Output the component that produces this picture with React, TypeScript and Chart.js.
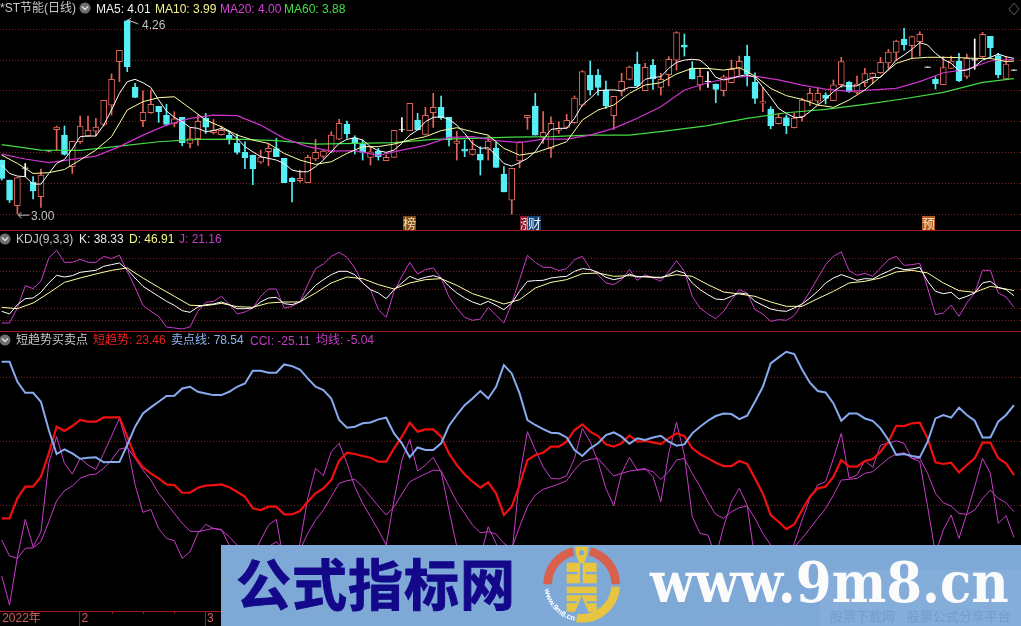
import React, { useEffect, useRef } from "react";
import { Chart, registerables } from "chart.js";

Chart.register(...registerables);

const OPEN = [3.351,3.221,3.055,3.297,3.206,3.113,3.409,3.548,3.513,3.308,3.47,3.507,3.539,3.583,3.708,3.99,4.254,3.823,3.606,3.658,3.7,3.641,3.585,3.628,3.459,3.49,3.622,3.529,3.516,3.511,3.461,3.401,3.383,3.338,3.405,3.425,3.362,3.234,3.217,3.204,3.358,3.375,3.403,3.487,3.585,3.496,3.455,3.368,3.407,3.347,3.368,3.546,3.542,3.611,3.518,3.658,3.693,3.628,3.459,3.422,3.388,3.388,3.42,3.429,3.26,3.091,3.345,3.626,3.702,3.5,3.427,3.544,3.563,3.593,3.708,3.903,3.903,3.806,3.639,3.797,3.875,3.974,3.801,3.968,3.823,3.905,4.0,4.098,3.946,3.838,3.86,3.845,3.801,3.853,3.946,4.024,3.858,3.721,3.682,3.587,3.626,3.561,3.632,3.734,3.734,3.773,3.736,3.84,3.855,3.79,3.853,3.888,3.918,3.981,4.05,4.137,4.093,4.119,3.953,3.875,3.84,3.946,3.994,3.894,4.0,4.022,4.154,4.029,3.877,3.933];
const CLOSE = [3.232,3.091,3.238,3.3,3.15,3.254,3.412,3.565,3.388,3.472,3.572,3.544,3.565,3.738,3.875,4.063,3.957,3.758,3.661,3.713,3.665,3.583,3.619,3.464,3.49,3.602,3.565,3.544,3.544,3.483,3.401,3.366,3.293,3.371,3.427,3.373,3.204,3.21,3.232,3.368,3.401,3.409,3.513,3.589,3.52,3.459,3.401,3.405,3.373,3.368,3.544,3.549,3.719,3.546,3.641,3.693,3.626,3.481,3.474,3.409,3.42,3.351,3.474,3.303,3.145,3.297,3.47,3.641,3.513,3.531,3.589,3.554,3.609,3.754,3.925,3.806,3.823,3.702,3.764,3.862,3.955,3.832,3.953,3.877,3.875,4.005,4.178,4.083,3.877,3.894,3.863,3.81,3.892,3.94,3.992,3.91,3.751,3.73,3.572,3.628,3.574,3.624,3.741,3.784,3.784,3.751,3.84,3.99,3.795,3.845,3.912,3.914,3.985,4.052,4.124,4.098,4.152,4.167,3.956,3.845,3.951,3.994,3.866,4.011,4.003,4.167,4.08,3.903,3.974,3.936];
const HIGH = [3.351,3.221,3.238,3.329,3.243,3.293,3.412,3.572,3.572,3.472,3.637,3.637,3.622,3.738,3.91,4.063,4.26,3.849,3.801,3.806,3.7,3.713,3.665,3.628,3.557,3.643,3.654,3.615,3.572,3.537,3.52,3.47,3.383,3.416,3.459,3.492,3.362,3.238,3.286,3.383,3.485,3.416,3.535,3.615,3.604,3.509,3.481,3.438,3.427,3.383,3.544,3.626,3.719,3.654,3.693,3.784,3.767,3.628,3.537,3.481,3.481,3.438,3.507,3.47,3.308,3.297,3.47,3.641,3.784,3.665,3.632,3.6,3.648,3.767,3.931,3.994,3.94,3.864,3.764,3.914,3.961,4.052,3.979,4.005,3.914,4.022,4.184,4.169,3.99,3.946,3.925,3.845,3.903,4.0,4.026,4.098,3.918,3.823,3.697,3.654,3.643,3.654,3.751,3.816,3.816,3.788,3.871,4.018,3.86,3.896,3.946,3.918,4.018,4.07,4.13,4.206,4.156,4.184,3.956,3.892,4.022,4.026,4.044,4.039,4.137,4.18,4.154,4.044,4.022,3.936];
const LOW = [3.221,3.076,3.0,3.243,3.098,3.044,3.409,3.416,3.383,3.264,3.459,3.503,3.507,3.572,3.643,3.86,3.925,3.756,3.567,3.654,3.596,3.574,3.567,3.444,3.429,3.446,3.524,3.52,3.513,3.455,3.39,3.295,3.191,3.329,3.314,3.373,3.204,3.08,3.208,3.204,3.347,3.362,3.399,3.481,3.492,3.39,3.351,3.319,3.351,3.347,3.368,3.535,3.542,3.546,3.513,3.563,3.615,3.442,3.351,3.373,3.383,3.254,3.351,3.303,3.145,3.0,3.301,3.55,3.513,3.459,3.368,3.524,3.557,3.589,3.702,3.773,3.773,3.687,3.55,3.767,3.871,3.827,3.801,3.81,3.773,3.832,3.935,4.026,3.877,3.806,3.823,3.723,3.767,3.853,3.903,3.832,3.719,3.665,3.554,3.585,3.522,3.559,3.604,3.704,3.719,3.715,3.736,3.823,3.79,3.78,3.827,3.845,3.914,3.946,4.0,4.065,4.011,4.026,3.953,3.812,3.84,3.946,3.86,3.881,3.94,4.018,4.018,3.884,3.877,3.933];

const MA5 = [3.319,3.264,3.247,3.243,3.195,3.195,3.264,3.329,3.355,3.422,3.503,3.507,3.507,3.578,3.676,3.784,3.86,3.875,3.853,3.823,3.741,3.669,3.628,3.6,3.563,3.557,3.535,3.542,3.557,3.535,3.492,3.438,3.405,3.373,3.362,3.351,3.329,3.286,3.275,3.275,3.308,3.351,3.405,3.459,3.485,3.496,3.481,3.438,3.412,3.401,3.416,3.459,3.513,3.546,3.6,3.628,3.632,3.615,3.578,3.524,3.459,3.427,3.431,3.383,3.329,3.312,3.334,3.362,3.405,3.481,3.55,3.557,3.557,3.622,3.708,3.751,3.801,3.806,3.806,3.801,3.823,3.823,3.875,3.888,3.892,3.946,3.985,4.0,4.005,4.0,3.957,3.888,3.871,3.881,3.896,3.905,3.888,3.823,3.758,3.687,3.654,3.628,3.628,3.665,3.708,3.747,3.795,3.832,3.832,3.832,3.864,3.886,3.888,3.94,4.0,4.033,4.07,4.113,4.098,4.044,4.005,3.979,3.931,3.935,3.957,4.0,4.018,4.039,4.022,4.011];
const MA10 = [3.383,3.329,3.264,3.269,3.29,3.351,3.416,3.503,3.676,3.73,3.756,3.762,3.687,3.611,3.567,3.513,3.481,3.459,3.394,3.351,3.323,3.34,3.394,3.438,3.438,3.455,3.481,3.503,3.542,3.561,3.535,3.513,3.427,3.383,3.399,3.433,3.47,3.611,3.676,3.708,3.784,3.838,3.853,3.91,3.946,3.946,3.935,3.951,3.896,3.816,3.769,3.745,3.708,3.693,3.741,3.806,3.892,3.979,4.011,4.018,4.018,4.016,4.011,4.011,3.99,3.994];
const MA20 = [3.39,3.358,3.334,3.355,3.377,3.438,3.513,3.578,3.622,3.643,3.639,3.578,3.492,3.438,3.409,3.412,3.381,3.416,3.446,3.498,3.503,3.477,3.464,3.487,3.487,3.513,3.557,3.622,3.697,3.806,3.853,3.888,3.896,3.871,3.838,3.812,3.797,3.806,3.816,3.86,3.918,3.94,3.994,4.005];
const MA60 = [3.451,3.416,3.414,3.442,3.47,3.485,3.487,3.477,3.455,3.459,3.464,3.485,3.492,3.5,3.503,3.513,3.513,3.542,3.574,3.622,3.658,3.68,3.713,3.749,3.79,3.855,3.879];
const STEP_MA10 = 2;
const STEP_MA20 = 3;
const STEP_MA60 = 5;

const KDJ_K = [14.9,10.6,25.7,35.5,36.6,45.8,61,73.4,70.7,72.9,78.3,80,81.6,88.1,90.8,93.5,82.7,69.1,55.5,47.4,39.3,31.2,24.7,16,13.3,21.9,25.7,26.8,30.1,25.7,19.2,19.2,20.3,30.1,36.6,37.7,27.4,25.7,30.1,43.6,57.2,66.4,74.5,80,80,74.5,61,50.1,44.7,35.5,50.1,61,71.8,66.4,70.2,72.9,69.1,55.5,44.7,36.6,30.1,25.7,31.2,24.7,17.6,28.4,47.4,63.7,64.8,65.3,69.1,70.7,71.8,80,84.3,82.7,78.3,70.2,66.4,69.1,75.6,70.7,71.8,70.2,69.1,74.5,81,77.2,61,50.1,42,34.9,33.9,39.3,44.7,43.1,31.2,24.7,18.7,16,14.9,20.3,26.8,36.6,47.4,61,69.1,74.5,70.2,65.3,68,67.5,74.5,80,86.4,82.7,83.7,86.4,63.7,47.4,43.6,45.8,34.9,39.3,44.7,61,63.7,53.9,50.1,40.4];
const KDJ_D = [21.4,19.2,28.4,44.7,62,69.1,75.6,81.6,85.4,69.1,53.9,39.3,24.7,24.1,27.9,22.5,21.4,28.4,30.1,30.1,44.7,61,70.7,68,58.3,51.2,61,66.4,68,57.2,43.6,35.5,26.8,33.9,52.8,62,66.4,76.1,77.2,71.8,72.9,70.7,70.2,74.5,71.8,58.3,46.3,43.1,39.3,30.1,23,23,35.5,47.4,61,63.7,69.1,78.9,81.6,77.2,61,48.5,45.8,55.5,51.2,48.5];
const KDJ_J = [-4.1,-4.1,20.3,56.6,51.8,63.7,101.6,114.1,94.6,94.6,99.5,94.6,94.6,104.3,100.5,106,80,53.9,24.7,14.9,6.8,-10.6,-12.2,-13.8,-10.6,14.9,29.5,31.2,39.3,26.8,10.6,13.8,20.3,39.3,51.2,51.2,20.3,23,30.1,58.3,84.3,91.9,104.3,110.8,102.7,85.4,61,50.1,17.6,5.1,47.4,71.8,94.6,75.6,82.7,85.4,69.1,38.2,20.3,5.1,0.3,2.4,21.4,8.4,-4.1,28.4,66.4,106,94.6,86.4,86.4,81,84.3,98.9,104.3,84.3,74.5,61,58.3,66.4,82.7,65.3,74.5,69.1,63.7,80,97.3,80,39.3,20.3,10.6,3,14.9,33.9,50.1,44.7,17.6,10.6,-1.4,1.4,0.3,7.9,26.8,47.4,69.1,90.8,104.3,111.4,81,73.4,76.7,71.8,85.4,98.9,104.3,89.7,90.8,93,52.8,9.5,12.2,24.7,6.8,28.4,44.7,81.6,81.6,44.7,38.2,21.4];
const STEP_D = 2;

const TREND = [-9.9,-9.9,5.7,14.8,14.8,22.6,40.8,61.6,58.2,62.1,66.8,65.5,65.5,68.8,68.8,68.8,53.8,38.2,29.9,25.2,21.3,16.6,16.1,10.1,10.1,14,15.6,16.1,16.6,14.3,10.9,7,-2.1,-3.4,-0.8,-0.8,-6.8,-6.8,-4.2,3.1,9.6,13.5,20,35.1,41.3,40.3,38.7,37.4,34.3,34.3,44.7,53.8,64.7,57.7,59.5,59.5,53.8,40.8,31.7,24.4,18.7,14,18.2,9.6,-7.3,-0.8,16.1,35.6,39.5,41.3,46,46,49.9,59,63.4,57.7,54.3,47.8,46,48.6,54.8,49.9,50.4,49.3,48,52.5,56.4,54.3,44.7,40.3,36.9,33.5,30.9,30.9,34.8,32.5,21.3,9.6,-7.3,-12.5,-18.2,-14.6,-3.4,7,13.5,14.8,22.6,35.6,30.4,30.4,34.8,36.4,42.1,49.9,62.3,62.1,64.2,64.7,52.5,33.8,32.5,33.5,26,31.7,36.9,49.1,49.1,36.9,33,23.9];
const SELL = [112.2,112.2,96.6,88,88,81,59,40.3,43.9,40.8,36.6,37.4,37.7,33.8,34,34,47.3,61.6,71.9,76.6,81,85.5,85.7,91.4,92.7,88.8,87.5,86.2,86.2,88.8,92.7,95.3,105.2,105.2,103.6,103.6,110.1,108.8,106.2,99.2,92.7,90.1,83.6,66.8,60.8,61.6,64.2,64.9,67.3,68.6,56.4,48.6,37.7,45.4,43.4,43.4,48.6,62.3,70.7,78.4,83.6,89.4,83.6,92.7,109.6,103.1,87.5,66.8,62.9,59.7,56.9,56.4,53.2,43.4,38.7,44.7,48.6,55.1,57.1,53.8,48.3,52.5,51.2,53.2,54.5,49.9,46.8,47.8,56.4,61.6,66.2,69.9,71.9,71.4,67.5,70.1,81,92.7,110.9,115.6,120,118.2,106.2,95.9,89.4,88.3,79.7,66.2,71.9,71.9,68,66.2,60.3,51.2,39.5,40.3,38.7,37.7,49.9,68,70.7,68.6,76.4,70.7,66.2,53.2,53.2,65.5,70.7,78.4];
const CCI = [-54.8,-77.4,-39.8,-10.7,-32,-20.3,33,53.8,33,24.7,36.9,31.7,28.3,40.8,54.3,68,47.3,16.1,-5.2,-2.9,-17.7,-25.5,-27.3,-41.1,-35.9,-21.6,-14.6,-17.7,-18.5,-30.7,-42.4,-39.8,-39.8,-26.8,-15.1,-10.7,-45,-50.2,-29.4,5.7,29.1,23.4,42.1,48.6,33,14.8,1.8,-8.6,-19,-30.7,4.4,35.6,51.7,27,31.7,37.7,26.5,-3.4,-32,-50.2,-50.2,-39.8,-16.4,-29.4,-50.2,-39.8,22.6,57.7,43.4,30.4,21.3,20.8,23.4,36.9,60.3,49.9,34.3,13.5,0,25.2,37.7,27.8,29.1,22.6,3.1,40.8,64.9,39.5,-8.6,-21.6,-22.9,-39.8,-16.4,3.1,13.5,0.5,-42.4,-42.4,-37.2,-42.4,-45,-29.4,-11.2,5.7,16.1,18.7,36.9,56.4,21.3,23.9,35.1,29.9,47.3,48.6,50.6,48.6,36.9,34.3,-0.8,-37.2,-19,-7.3,-25.5,-6,14.8,36.9,25.2,-13.8,-7.8,-24.7];
const CCI_MA = [-26.8,-39.2,-41.1,-33.3,-32.8,-28.1,-12.5,3.9,11.7,15.3,21.3,23.9,24.7,29.1,35.6,44.1,45.4,36.9,27.8,20,9.6,1.8,-6,-13.8,-19.8,-20.3,-19,-17.7,-19,-24.2,-30.7,-35.9,-39.8,-35.9,-32,-28.1,-34.6,-39.8,-34.6,-21.6,-11.2,-3.4,7,17.4,19.5,20.5,14.8,7,-0.3,-7.3,-0.8,9.1,18.7,21.8,24.7,27.8,27.3,14.8,3.1,-6,-15.1,-21.1,-20.3,-22.1,-29.4,-33.3,-16.4,-0.8,8.3,12.7,14.8,16.9,19.5,27.8,34.3,36.1,36.9,29.9,23.1,25.2,27,27.8,28.3,26.5,20.5,26.5,35.6,36.9,25.2,14.8,3.1,-6.8,-9.9,-4.7,-1.6,-0.3,-9.9,-21.6,-30.7,-39.8,-42.4,-32,-25.5,-17.7,-9.9,-2.1,8.3,20,20.5,21.3,25.2,26.5,31.7,36.9,40.3,41.3,36.9,36.9,25.2,9.6,2.3,-0.3,-6,-6.8,-3.4,5.7,12.2,5.7,2.3,-4.7];

const PRICE_GRID = [4.2, 4.0, 3.8, 3.6, 3.4, 3.2, 3.0];
const KDJ_GRID = [100, 80, 50, 20, 0];
const TREND_GRID = [100, 50, 0];
const MONTH_TICKS = [-0.2, 9.9, 25.9, 49.5, 68, 87];
const MONTH_LABELS = ["2022年", "2", "3", "4", "5", "6"];
const MINOR_TICKS = [14, 18, 22];

const LAST = OPEN.length - 1;
const series = (values: number[], step = 1) => values.map((y, i) => ({ x: Math.min(i * step, LAST), y }));

const BLACK = "#000000";
const RED = "#e0655a";
const CYAN = "#55eef5";
const GRID_RED = "#7c2020";
const SEP_RED = "#a51c1c";
const XRANGE = { min: -0.217, max: 129.9, offset: false };
const SANS = '"Liberation Sans","Noto Sans CJK SC",sans-serif';

const line = (data: any, color: string, width: number, order: number) => ({
  type: "line", data, borderColor: color, borderWidth: width, pointRadius: 0, tension: 0, order, fill: false,
});

const yAxis = (min: number, max: number, grid: number[]) => ({
  display: true, min, max, position: "left",
  ticks: { display: false },
  grid: { color: GRID_RED, lineWidth: 1, drawTicks: false },
  border: { display: false, dash: [1, 2] },
  afterBuildTicks: (s: any) => { s.ticks = grid.map((value) => ({ value })); },
  afterFit: (s: any) => { s.width = 0; },
});

const baseOptions = (scales: any) => ({
  responsive: false, animation: false, devicePixelRatio: 1, events: [],
  layout: { padding: 0 },
  plugins: { legend: { display: false }, tooltip: { enabled: false } },
  scales,
});

const isDoji = (i: number) => Math.abs(OPEN[i] - CLOSE[i]) < 0.004;
const candleColor = (i: number) => (isDoji(i) ? "#ffffff" : CLOSE[i] > OPEN[i] ? RED : CYAN);

const extremeMarks = {
  id: "extremeMarks",
  afterDatasetsDraw(chart: any) {
    const { ctx, scales } = chart;
    const hi = HIGH.indexOf(Math.max(...HIGH));
    const lo = LOW.indexOf(Math.min(...LOW));
    const hx = scales.x.getPixelForValue(hi), hy = scales.y.getPixelForValue(HIGH[hi]);
    const lx = scales.x.getPixelForValue(lo), ly = scales.y.getPixelForValue(LOW[lo]);
    ctx.save();
    ctx.strokeStyle = "#c8c8c8";
    ctx.lineWidth = 1;
    ctx.beginPath();
    ctx.moveTo(hx + 1, hy); ctx.lineTo(hx + 11, hy + 4);
    ctx.moveTo(hx + 1, hy); ctx.lineTo(hx + 4, hy - 2);
    ctx.moveTo(hx + 1, hy); ctx.lineTo(hx + 3, hy + 3);
    ctx.moveTo(lx + 1, ly + 1); ctx.lineTo(lx + 12, ly + 1);
    ctx.moveTo(lx + 1, ly + 1); ctx.lineTo(lx + 4, ly - 2);
    ctx.moveTo(lx + 1, ly + 1); ctx.lineTo(lx + 4, ly + 4);
    ctx.stroke();
    ctx.restore();
  },
};

const axisMarks = {
  id: "axisMarks",
  afterDraw(chart: any) {
    const { ctx, scales } = chart;
    const top = scales.x.top;
    ctx.save();
    ctx.strokeStyle = SEP_RED;
    ctx.lineWidth = 1;
    ctx.beginPath();
    MONTH_TICKS.slice(1).forEach((v) => {
      const x = Math.round(scales.x.getPixelForValue(v)) + 0.5;
      ctx.moveTo(x, top); ctx.lineTo(x, top + 15);
    });
    MINOR_TICKS.forEach((v) => {
      const x = Math.round(scales.x.getPixelForValue(v)) + 0.5;
      ctx.moveTo(x, top); ctx.lineTo(x, top + 3);
    });
    ctx.stroke();
    ctx.restore();
  },
};

const Icon = ({ x, y }: { x: number; y: number }) => (
  <svg style={{ position: "absolute", left: x - 6, top: y - 6 }} width={12} height={12} viewBox="0 0 12 12">
    <circle cx={6} cy={6} r={5.5} fill="#6e6e6e" />
    <path d="M3 4.5 L6 7.5 L9 4.5" fill="none" stroke="#e0e0e0" strokeWidth={1.4} />
  </svg>
);

const Txt = ({ x, y, c, children, cjk = false }: any) => (
  <span style={{ position: "absolute", left: x, top: y - (cjk ? 8 : 7), height: 16, lineHeight: "16px", color: c, fontFamily: SANS, fontSize: 12, whiteSpace: "nowrap" }}>{children}</span>
);

const Tag = ({ x, bg, c, children }: any) => (
  <span style={{ position: "absolute", left: x, top: 216, width: 13, height: 14, lineHeight: "14px", background: bg, color: c, fontFamily: '"Noto Sans CJK SC",sans-serif', fontSize: 13, textAlign: "center", overflow: "hidden" }}>{children}</span>
);

const Logo = () => (
  <svg style={{ position: "absolute", left: 530, top: 540 }} width={130} height={86} viewBox="0 0 390 258">
    <g fill="none" strokeWidth={26}>
      <path d="M53 133 A102 102 0 0 1 130 34" stroke="#d9604c" />
      <path d="M180 34 A102 102 0 0 1 257 133" stroke="#d9604c" />
      <path d="M257 140 A102 102 0 0 1 140 234" stroke="#e8c540" />
    </g>
    <path d="M135 20 H175 L170 50 L162 68 H200 V130 H110 V68 H148 L140 50 Z" fill="#e8c540" />
    <circle cx={155} cy={38} r={8} fill="#7ea9d7" />
    <path d="M108 96 H142 V103 H108 Z M168 96 H202 V103 H168 Z M150 70 H158 V130 H150 Z" fill="#7ea9d7" />
    <path d="M110 140 H200 V215 H175 L155 168 L135 215 H110 Z" fill="#e8c540" />
    <path d="M108 160 H202 V166 H108 Z M108 184 H140 V190 H108 Z M170 184 H202 V190 H170 Z" fill="#7ea9d7" />
    <defs><path id="logoArc" d="M44 148 A112 112 0 0 0 127 241" /></defs>
    <text fill="#ffffff" fontSize={23} fontWeight={700} fontFamily={SANS}>
      <textPath href="#logoArc">www.9m8.cn</textPath>
    </text>
  </svg>
);

export default function App() {
  const mainRef = useRef<HTMLCanvasElement>(null);
  const kdjRef = useRef<HTMLCanvasElement>(null);
  const trendRef = useRef<HTMLCanvasElement>(null);

  useEffect(() => {
    const xs = OPEN.map((_, i) => i);
    const main = new Chart(mainRef.current as any, {
      type: "bar",
      data: {
        datasets: [
          line(series(MA5), "#ffffff", 1, 1),
          line(series(MA10, STEP_MA10), "#ffffa0", 1, 2),
          line(series(MA20, STEP_MA20), "#cc33cc", 1.2, 3),
          line(series(MA60, STEP_MA60), "#44dd44", 1.2, 4),
          {
            type: "bar", grouped: false, order: 5, barThickness: 6, borderWidth: 1, borderSkipped: false,
            data: xs.map((x) => ({ x, y: [OPEN[x], CLOSE[x]] })),
            borderColor: xs.map(candleColor),
            backgroundColor: xs.map((i) => (CLOSE[i] > OPEN[i] && !isDoji(i) ? BLACK : candleColor(i))),
          },
          {
            type: "bar", grouped: false, order: 6, barThickness: 1, borderWidth: 0,
            data: xs.map((x) => ({ x, y: [LOW[x], HIGH[x]] })),
            backgroundColor: xs.map(candleColor),
          },
        ] as any,
      },
      options: baseOptions({
        x: { type: "linear", display: false, grid: { offset: false }, ...XRANGE },
        y: yAxis(2.897, 4.39, PRICE_GRID),
      }) as any,
      plugins: [extremeMarks],
    });

    const kdj = new Chart(kdjRef.current as any, {
      type: "line",
      data: {
        datasets: [
          line(series(KDJ_K), "#ffffff", 1, 1),
          line(series(KDJ_D, STEP_D), "#ffffa0", 1, 2),
          line(series(KDJ_J), "#c83cc8", 1, 3),
        ] as any,
      },
      options: baseOptions({
        x: { type: "linear", display: false, ...XRANGE },
        y: yAxis(-17.1, 145.5, KDJ_GRID),
      }) as any,
    });

    const trend = new Chart(trendRef.current as any, {
      type: "line",
      data: {
        datasets: [
          line(series(SELL), "#88aaee", 2, 1),
          line(series(TREND), "#f01010", 2.2, 2),
          line(series(CCI), "#c83cc8", 1, 3),
          line(series(CCI_MA), "#c83cc8", 1, 4),
        ] as any,
      },
      options: baseOptions({
        x: {
          type: "linear", position: "bottom", ...XRANGE,
          grid: { display: false, drawTicks: false },
          border: { display: true, color: SEP_RED, width: 1 },
          ticks: {
            autoSkip: false, maxRotation: 0, minRotation: 0, align: "start", labelOffset: 2, padding: 0,
            color: "#d0605c", font: { family: SANS, size: 12 },
            callback: (v: number) => MONTH_LABELS[MONTH_TICKS.indexOf(v)] ?? "",
          },
          afterBuildTicks: (s: any) => { s.ticks = MONTH_TICKS.map((value) => ({ value })); },
          afterFit: (s: any) => { s.height = 15; },
        },
        y: yAxis(-82.1, 135.4, TREND_GRID),
      }) as any,
      plugins: [axisMarks],
    });

    return () => { main.destroy(); kdj.destroy(); trend.destroy(); };
  }, []);

  const canvas = (top: number, height: number): React.CSSProperties => ({ position: "absolute", left: 0, top, width: 1021, height, display: "block" });

  return (
    <div style={{ position: "fixed", left: 0, top: 0, width: 1021, height: 626, background: "#000", overflow: "hidden" }}>
      <canvas ref={mainRef} width={1021} height={230} style={canvas(0, 230)} />
      <canvas ref={kdjRef} width={1021} height={100} style={canvas(231, 100)} />
      <canvas ref={trendRef} width={1021} height={294} style={canvas(332, 294)} />
      <div style={{ position: "absolute", left: 0, top: 230, width: 1021, height: 1, background: SEP_RED }} />
      <div style={{ position: "absolute", left: 0, top: 331, width: 1021, height: 1, background: SEP_RED }} />

      <Txt cjk x={0} y={8} c="#c8c8c8">*ST节能(日线)</Txt>
      <Icon x={85} y={8} />
      <Txt x={96} y={8} c="#f0f0f0">MA5: 4.01</Txt>
      <Txt x={155} y={8} c="#f5f58a">MA10: 3.99</Txt>
      <Txt x={220} y={8} c="#d840d8">MA20: 4.00</Txt>
      <Txt x={284} y={8} c="#40e040">MA60: 3.88</Txt>
      <svg style={{ position: "absolute", left: 1007, top: 2 }} width={14} height={14} viewBox="0 0 14 14">
        <path d="M7 1 L12 7 L7 13 L2 7 Z" fill="none" stroke="#5a5a5a" />
      </svg>
      <Txt x={142} y={24} c="#c0c0c0">4.26</Txt>
      <Txt x={31} y={215} c="#c0c0c0">3.00</Txt>
      <Tag x={403} bg="#7a4a18" c="#f5deb0">榜</Tag>
      <Tag x={520} bg="#8a1a2a" c="#f0e0e0">涨</Tag>
      <Tag x={528} bg="#12406e" c="#e8f0f8">财</Tag>
      <Tag x={922} bg="#b85a1e" c="#f5e0c0">预</Tag>

      <Icon x={5} y={239} />
      <Txt x={16} y={238} c="#c8c8c8">KDJ(9,3,3)</Txt>
      <Txt x={79} y={238} c="#e8e8e8">K: 38.33</Txt>
      <Txt x={129} y={238} c="#f5f58a">D: 46.91</Txt>
      <Txt x={179} y={238} c="#c040c0">J: 21.16</Txt>

      <Icon x={5} y={340} />
      <Txt cjk x={16} y={340} c="#c8c8c8">短趋势买卖点</Txt>
      <Txt cjk x={93} y={340} c="#f02020">短趋势: 23.46</Txt>
      <Txt cjk x={171} y={340} c="#8fb4f5">卖点线: 78.54</Txt>
      <Txt x={250} y={340} c="#c83cc8">CCI: -25.11</Txt>
      <Txt cjk x={316} y={340} c="#c83cc8">均线: -5.04</Txt>

      <div style={{ position: "absolute", left: 221, top: 545, width: 800, height: 81, background: "#7ea9d7" }} />
      <div style={{ position: "absolute", left: 820, top: 570, width: 201, height: 56, background: "rgba(255,255,255,0.05)" }} />
      <span style={{ position: "absolute", left: 236, top: 541, height: 80, lineHeight: "80px", color: "#14088a", fontFamily: '"Noto Sans CJK SC",sans-serif', fontWeight: 700, fontSize: 55, letterSpacing: 1, WebkitTextStroke: "1px #14088a", whiteSpace: "nowrap" }}>公式指标网</span>
      <Logo />
      <span style={{ position: "absolute", left: 650, top: 542, height: 80, lineHeight: "80px", color: "#fbfbfb", fontFamily: '"DejaVu Serif",serif', fontWeight: 700, fontSize: 56, whiteSpace: "nowrap", transform: "scaleX(0.92)", transformOrigin: "left center" }}>www.9m8.cn</span>
      <span style={{ position: "absolute", left: 707, top: 610, color: "rgba(140,170,215,0.9)", fontFamily: SANS, fontSize: 13, whiteSpace: "nowrap" }}>2022/06/07/二</span>
      <span style={{ position: "absolute", left: 830, top: 606, color: "rgba(105,140,190,0.5)", fontFamily: '"Noto Sans CJK SC",sans-serif', fontSize: 13, whiteSpace: "pre" }}>股票下载网    股票公式分享平台</span>
    </div>
  );
}
